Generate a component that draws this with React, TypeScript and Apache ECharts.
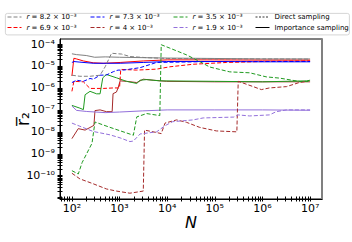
import React, { useEffect, useRef } from 'react';
import * as echarts from 'echarts';

// ---- Data (N, mean r2) ----
const grayDirect = [[100,3.8e-6],[147,3.4e-6],[240,3.4e-6],[390,3.8e-6],[500,9.3e-6],[680,3.8e-5],[1100,3.5e-5],[1650,2.7e-5],[3700,2.4e-5],[1e4,2.2e-5],[1e5,2.1e-5],[1e6,2.1e-5],[1e7,2.05e-5]];
const grayImportance = [[100,3.6e-5],[125,3.3e-5],[200,3.0e-5],[300,2.5e-5],[500,2.6e-5],[1000,2.5e-5],[3000,2.4e-5],[1e4,2.3e-5],[1e5,2.2e-5],[1e6,2.1e-5],[1e7,2.1e-5]];

const redDirect = [[100,7e-7],[110,2.0e-6],[174,1.9e-6],[240,9.5e-7],[455,9.5e-7],[740,1.0e-6],[1000,1.0e-6],[1060,7e-6],[2300,6.5e-6],[6000,7.2e-6],[11400,9.2e-6],[35000,1.2e-5],[177000,1.45e-5],[1e6,1.6e-5],[1e7,1.7e-5]];
const redImportance = [[100,3.5e-6],[110,2.25e-5],[125,2.1e-5],[174,1.7e-5],[280,1.4e-5],[455,1.33e-5],[1030,1.45e-5],[3150,1.7e-5],[1e4,1.9e-5],[1e5,1.9e-5],[1e6,1.85e-5],[1e7,1.85e-5]];

const blueDirect = [[100,1.76e-6],[125,2.25e-6],[174,2.0e-6],[240,2.7e-6],[280,2.5e-6],[390,3.8e-6],[530,3.9e-6],[740,5.5e-6],[930,6.5e-6],[1200,6.5e-6],[2700,8.4e-6],[6000,1.45e-5],[1e5,1.6e-5],[1e7,1.6e-5]];
const blueImportance = [[100,1.45e-5],[110,1.6e-5],[147,1.5e-5],[280,1.33e-5],[1030,1.33e-5],[3150,1.45e-5],[9700,1.6e-5],[1e5,1.6e-5],[1e6,1.55e-5],[1e7,1.55e-5]];

const brownDirect = [[100,1.3e-10],[147,7.2e-11],[280,4.3e-11],[530,2.5e-11],[860,2.0e-11],[1650,1.6e-11],[3150,2.0e-11],[3350,1.2e-8],[6000,9.3e-9],[7500,8.3e-9],[9000,2.5e-8],[15800,3.5e-8],[25600,2.7e-8],[48000,1.6e-8],[108000,1.1e-8],[290000,1.0e-8],[310000,2.0e-6],[640000,1.15e-6],[950000,8.4e-7],[1.4e6,1.0e-6],[3.2e6,1.15e-6],[6.1e6,1.8e-6],[9e6,2.0e-6]];
const brownImportance = [[100,4.9e-9],[136,1.4e-8],[189,1.2e-8],[264,1.76e-8],[290,2e-8],[305,9.3e-8],[390,1.0e-7],[530,8.3e-8],[700,8.3e-8],[730,5.5e-7],[860,6.5e-7],[930,1.0e-6],[1030,2.1e-6],[1400,2.0e-6],[2300,1.76e-6],[3150,2.5e-6],[5100,2.25e-6],[9700,2.0e-6],[1e5,1.9e-6],[1e6,1.9e-6],[1e7,1.9e-6]];

const greenDirect = [[100,1.7e-10],[136,1.2e-10],[164,4e-10],[264,3e-9],[305,2.8e-8],[630,1.6e-8],[1950,7e-9],[2300,4.8e-8],[3700,6.8e-8],[7000,5.5e-8],[7500,9.3e-5],[11400,6.5e-5],[25600,3.2e-5],[48000,1.6e-5],[78000,9e-6],[206000,5.4e-6],[540000,4.9e-6],[1.2e6,3.2e-6],[2.3e6,2.8e-6],[6.1e6,1.96e-6],[1e7,2.0e-6]];
const greenImportance = [[100,1.6e-7],[147,1.2e-7],[174,1.03e-7],[189,4.9e-7],[240,7e-7],[330,5.4e-7],[390,5.4e-7],[445,2.9e-6],[530,4.1e-6],[860,2.9e-6],[1400,2.0e-6],[2300,1.6e-6],[2700,2.25e-6],[3700,2.4e-6],[7000,2.1e-6],[1e5,2.0e-6],[1e6,1.9e-6],[8.5e6,2.1e-6],[1e7,2.25e-6]];

const purpleDirect = [[100,2.5e-8],[147,1.8e-8],[280,1.04e-8],[630,7.3e-9],[1030,5.3e-9],[1650,3.6e-9],[1950,3.8e-9],[2700,8e-9],[6000,1.0e-8],[9000,1.9e-8],[13000,2.9e-8],[35000,3.5e-8],[57000,4.3e-8],[250000,4.7e-8],[310000,5.9e-8],[540000,5.3e-8],[1.4e6,5.9e-8],[1.95e6,8.3e-8],[3.2e6,1.0e-7],[1e7,1.0e-7]];
const purpleImportance = [[100,1.5e-7],[125,9.5e-8],[200,8.5e-8],[500,7.5e-8],[1000,8e-8],[3000,9e-8],[1e4,1.0e-7],[1e5,1.0e-7],[1e6,1.0e-7],[1e7,9.6e-8]];

const rNames = ['r = 8.2 × 10⁻³', 'r = 6.9 × 10⁻³', 'r = 7.3 × 10⁻³', 'r = 4 × 10⁻³', 'r = 3.5 × 10⁻³', 'r = 1.9 × 10⁻³'];
const rColors = ['#808080', '#ff0000', '#0000ff', '#a52a2a', '#1f9a1f', '#9370db'];
const directSets = [grayDirect, redDirect, blueDirect, brownDirect, greenDirect, purpleDirect];
const importanceSets = [grayImportance, redImportance, blueImportance, brownImportance, greenImportance, purpleImportance];
const methodNames = ['Direct sampling', 'Importance sampling'];

const xMajorExp = [2, 3, 4, 5, 6, 7];
const yMajorExp = [-10, -9, -8, -7, -6, -5, -4];
const xLogRange = [1.75, 7.25];
const yLogRange = [-11.06, -3.77];

const SUP: Record<string, string> = { '-': '⁻', '0': '⁰', '1': '¹', '2': '²', '3': '³', '4': '⁴', '5': '⁵', '6': '⁶', '7': '⁷', '8': '⁸', '9': '⁹' };
const pow10 = (e: number) => '10' + String(Math.round(e)).split('').map((c) => SUP[c] || c).join('');

function tickList(lo: number, hi: number): number[] {
  const out: number[] = [];
  for (let d = Math.floor(lo) - 1; d <= Math.ceil(hi); d++) {
    for (let k = 1; k <= 9; k++) {
      const v = d + Math.log10(k);
      if (v >= lo - 1e-9 && v <= hi + 1e-9) out.push(v);
    }
  }
  return out;
}

const FONT = 'DejaVu Sans';

function buildOption() {
  const xt = tickList(xLogRange[0], xLogRange[1]);
  const yt = tickList(yLogRange[0], yLogRange[1]);
  const series: any[] = [];
  rNames.forEach((name, i) => {
    series.push({
      type: 'line', name, xAxisIndex: 0, yAxisIndex: 0, symbol: 'none', data: directSets[i],
      lineStyle: { color: rColors[i], width: 1, type: [4, 2] }, itemStyle: { color: rColors[i] }, z: 3,
    });
  });
  rNames.forEach((name, i) => {
    series.push({
      type: 'line', name, xAxisIndex: 0, yAxisIndex: 0, symbol: 'none', data: importanceSets[i],
      lineStyle: { color: rColors[i], width: 1, type: 'solid' }, itemStyle: { color: rColors[i] }, z: 2,
    });
  });
  series.push({ type: 'line', name: methodNames[0], xAxisIndex: 0, yAxisIndex: 0, symbol: 'none', data: [], lineStyle: { color: '#000', width: 0.8, type: [2, 1.5] }, itemStyle: { color: '#000' } });
  series.push({ type: 'line', name: methodNames[1], xAxisIndex: 0, yAxisIndex: 0, symbol: 'none', data: [], lineStyle: { color: '#000', width: 1, type: 'solid' }, itemStyle: { color: '#000' } });

  const legendBase = {
    orient: 'vertical', top: 12.5, padding: 0, itemGap: 1.5, itemWidth: 14, itemHeight: 9,
    selectedMode: false,
    itemStyle: { opacity: 0 },
    lineStyle: { width: 1 },
    textStyle: { fontSize: 7, fontFamily: FONT, color: '#000', lineHeight: 9, rich: { i: { fontStyle: 'italic', fontSize: 7, fontFamily: FONT } } },
    formatter: (n: string) => (n.startsWith('r = ') ? '{i|r}' + n.slice(1) : n),
  };

  const tickStyle = { lineStyle: { color: '#000', width: 1, opacity: 1 }, length: 2.5 };
  const hiddenLine = { show: true, onZero: false, lineStyle: { color: '#000', opacity: 0 } };

  return {
    animation: false,
    textStyle: { fontFamily: FONT },
    grid: { left: 60, right: 30, top: 39, bottom: 43, show: true, borderColor: '#000', borderWidth: 1, backgroundColor: 'transparent' },
    graphic: [{ type: 'rect', left: 5, top: 13, shape: { width: 344, height: 21.5, r: 2 }, style: { fill: 'rgba(255,255,255,0.8)', stroke: '#cccccc', lineWidth: 0.8 }, z: -1 }],
    legend: [
      { ...legendBase, left: 7, data: [rNames[0], rNames[1]] },
      { ...legendBase, left: 90, data: [rNames[2], rNames[3]] },
      { ...legendBase, left: 173, data: [rNames[4], rNames[5]] },
      { ...legendBase, left: 255, data: [{ name: methodNames[0], lineStyle: { width: 0.8 } }, { name: methodNames[1] }] },
    ],
    xAxis: [
      {
        type: 'log', logBase: 10, min: Math.pow(10, xLogRange[0]), max: Math.pow(10, xLogRange[1]), position: 'bottom',
        axisLine: { show: true, onZero: false, lineStyle: { color: '#000', width: 1 } }, axisTick: { show: false }, axisLabel: { show: false }, splitLine: { show: false },
        name: 'N', nameLocation: 'middle', nameGap: 15, nameTextStyle: { fontSize: 16, fontStyle: 'italic', fontFamily: FONT, color: '#000' },
      },
      {
        type: 'value', min: xLogRange[0], max: xLogRange[1], position: 'bottom',
        axisLine: hiddenLine, splitLine: { show: false },
        axisTick: { show: true, inside: false, customValues: xt, ...tickStyle },
        axisLabel: { show: true, customValues: xMajorExp, formatter: (v: number) => pow10(v), fontSize: 11, color: '#000', margin: 4, fontFamily: FONT },
      },
      {
        type: 'value', min: xLogRange[0], max: xLogRange[1], position: 'bottom',
        axisLine: hiddenLine, splitLine: { show: false },
        axisTick: { show: true, inside: true, customValues: xt, ...tickStyle }, axisLabel: { show: false },
      },
    ],
    yAxis: [
      {
        type: 'log', logBase: 10, min: Math.pow(10, yLogRange[0]), max: Math.pow(10, yLogRange[1]), position: 'left',
        axisLine: { show: true, onZero: false, lineStyle: { color: '#000', width: 1 } }, axisTick: { show: false }, axisLabel: { show: false }, splitLine: { show: false },
        name: 'r̅₂', nameLocation: 'middle', nameGap: 29, nameRotate: 90, nameTextStyle: { fontSize: 17, fontFamily: FONT, color: '#000' },
      },
      {
        type: 'value', min: yLogRange[0], max: yLogRange[1], position: 'left',
        axisLine: hiddenLine, splitLine: { show: false },
        axisTick: { show: true, inside: false, customValues: yt, ...tickStyle },
        axisLabel: { show: true, customValues: yMajorExp, formatter: (v: number) => pow10(v), fontSize: 11, color: '#000', margin: 5, fontFamily: FONT },
      },
      {
        type: 'value', min: yLogRange[0], max: yLogRange[1], position: 'left',
        axisLine: hiddenLine, splitLine: { show: false },
        axisTick: { show: true, inside: true, customValues: yt, ...tickStyle }, axisLabel: { show: false },
      },
      {
        type: 'value', min: yLogRange[0], max: yLogRange[1], position: 'right',
        axisLine: { show: true, onZero: false, lineStyle: { color: '#808080', width: 2 } }, splitLine: { show: false },
        axisTick: { show: false }, axisLabel: { show: false },
      },
    ],
    series,
  };
}

export default function App() {
  const ref = useRef<HTMLDivElement>(null);
  useEffect(() => {
    const chart = echarts.init(ref.current as HTMLDivElement, null, { renderer: 'svg' });
    chart.setOption(buildOption() as any);
    return () => chart.dispose();
  }, []);
  return <div ref={ref} style={{ position: 'fixed', left: 0, top: 0, width: 352, height: 242, background: '#fff' }} />;
}
